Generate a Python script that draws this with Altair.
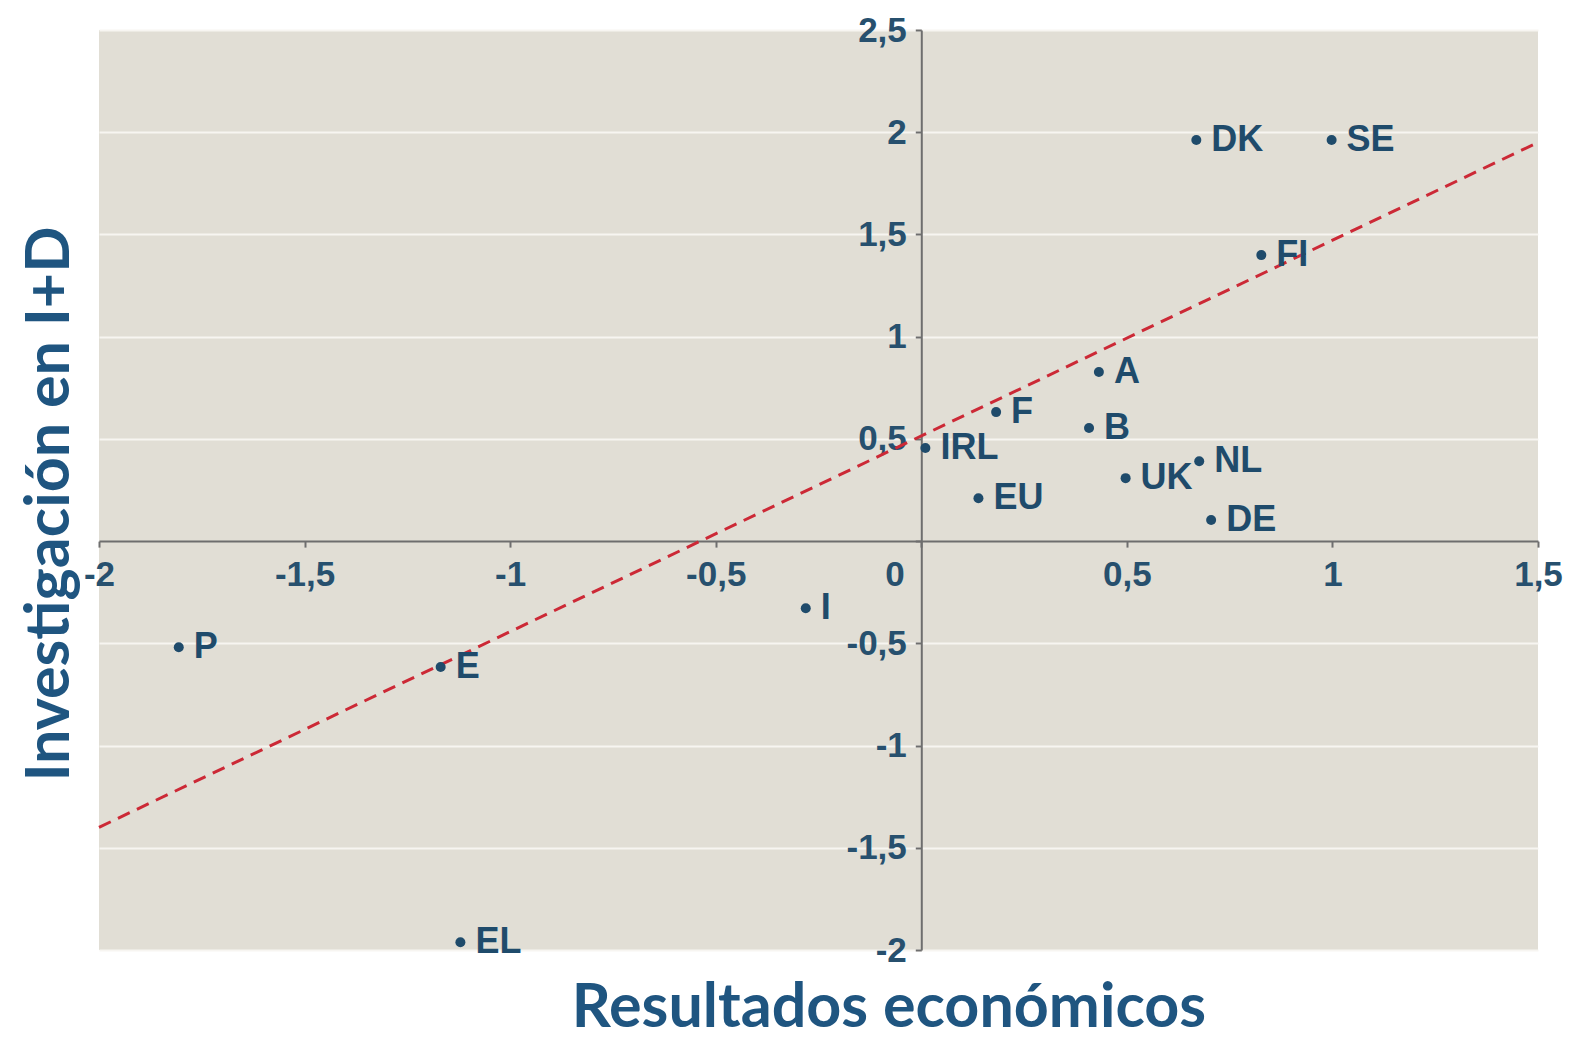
import altair as alt
import pandas as pd

# ---- data ----
countries = ["DK", "SE", "FI", "A", "F", "B", "IRL", "NL", "UK", "EU", "DE", "I", "P", "E", "EL"]
econ = [0.669, 0.998, 0.827, 0.432, 0.182, 0.408, 0.010, 0.676, 0.497, 0.139, 0.705,
        -0.281, -1.806, -1.169, -1.121]
rd = [1.962, 1.962, 1.399, 0.827, 0.631, 0.553, 0.455, 0.391, 0.308, 0.210, 0.103,
      -0.328, -0.519, -0.616, -1.962]

trend_x = [-2.0, 1.5]
trend_y = [-1.40, 1.95]

x_ticks = [-2, -1.5, -1, -0.5, 0, 0.5, 1, 1.5]
y_ticks = [-2, -1.5, -1, -0.5, 0, 0.5, 1, 1.5, 2, 2.5]
x_domain = [-2, 1.5]
y_domain = [-2, 2.5]

x_title = "Resultados económicos"
y_title = "Investigación en I+D"

# ---- layout / style ----
W, H = 1439, 920
x_zero_px = W * (0 - x_domain[0]) / (x_domain[1] - x_domain[0])
y_zero_from_bottom = H * (0 - y_domain[0]) / (y_domain[1] - y_domain[0])

DOT = "#1f4b6b"
TICKLAB = "#27506e"
TITLE = "#1f5580"
AXIS = "#6e6e6e"
BG = "#e1ded5"

pts = pd.DataFrame({"x": econ, "y": rd, "label": countries})
trend = pd.DataFrame({"x": trend_x, "y": trend_y})

lab_x = "replace(datum.value + '', '.', ',')"
lab_y = "datum.value == 0 ? '' : replace(datum.value + '', '.', ',')"

x_axis = alt.Axis(
    values=x_ticks, offset=-y_zero_from_bottom, grid=False,
    domainColor=AXIS, domainWidth=2, tickColor=AXIS, tickWidth=2, tickSize=6,
    labelFont="Liberation Sans", labelFontWeight="bold", labelFontSize=35,
    labelColor=TICKLAB, labelPadding=10, labelFlush=False, labelOverlap=False,
    labelExpr=lab_x,
    labelAlign={"condition": {"test": "datum.value == 0", "value": "right"}, "value": "center"},
    labelOffset={"condition": {"test": "datum.value == 0", "value": -17}, "value": 0},
    title=None,
)
y_axis = alt.Axis(
    values=y_ticks, offset=-x_zero_px, grid=True, gridColor="#f7f5f1", gridWidth=2,
    gridOpacity={"condition": {"test": "datum.value == 0", "value": 0}, "value": 1},
    domainColor=AXIS, domainWidth=2, tickColor=AXIS, tickWidth=2, tickSize=6,
    labelFont="Liberation Sans", labelFontWeight="bold", labelFontSize=35,
    labelColor=TICKLAB, labelPadding=9, labelFlush=False, labelOverlap=False,
    labelExpr=lab_y, title=None,
)

def xe():
    return alt.X("x:Q", scale=alt.Scale(domain=x_domain, nice=False, zero=False), axis=x_axis)

def ye():
    return alt.Y("y:Q", scale=alt.Scale(domain=y_domain, nice=False, zero=False), axis=y_axis)

line = alt.Chart(trend).mark_line(
    color="#cc2936", strokeWidth=3, strokeDash=[13, 8]
).encode(x=xe(), y=ye())

dots = alt.Chart(pts).mark_circle(size=100, color=DOT, opacity=1).encode(x=xe(), y=ye())

labels = alt.Chart(pts).mark_text(
    align="left", baseline="middle", dx=15, font="Liberation Sans",
    fontWeight="bold", fontSize=36, color=DOT
).encode(x=xe(), y=ye(), text="label:N")

xt = alt.Chart(pd.DataFrame({"t": [x_title]})).mark_text(
    align="center", baseline="alphabetic", font="Lato", fontWeight="bold",
    fontSize=61, color=TITLE
).encode(x=alt.value(790), y=alt.value(997), text="t:N")

yt = alt.Chart(pd.DataFrame({"t": [y_title]})).mark_text(
    align="center", baseline="alphabetic", angle=270, font="Lato", fontWeight="bold",
    fontSize=61, color=TITLE
).encode(x=alt.value(-30), y=alt.value(474), text="t:N")

chart = alt.layer(line, dots, labels, xt, yt).properties(
    width=W, height=H,
    autosize=alt.AutoSizeParams(type="none"),
    padding={"left": 91, "top": 22, "right": 26, "bottom": 89},
    background="white",
).configure_view(fill=BG, stroke=None)

chart.save("out.html", embed_options={"renderer": "svg", "actions": False})
